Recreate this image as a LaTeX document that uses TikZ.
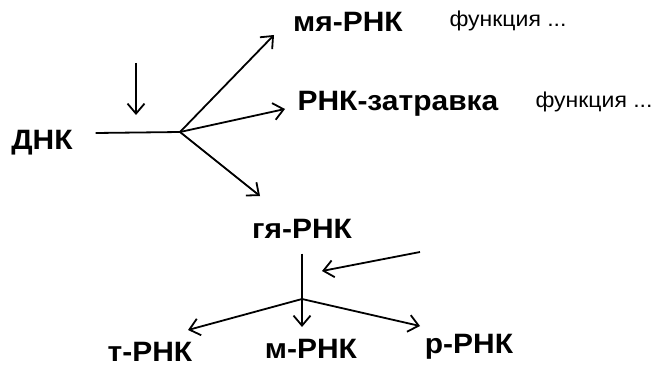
\documentclass[tikz,border=0pt]{standalone}
\usepackage{fontspec}
\setmainfont{Liberation Sans}[FakeStretch=1.07]
\usetikzlibrary{arrows.meta}
\begin{document}
\begin{tikzpicture}[x=1pt, y=-1pt,
        every node/.style = {inner sep=0pt, font=\fontsize{28}{30}\selectfont\bfseries},
        func/.style = {font=\fontsize{21.5}{24}\selectfont},
        every path/.style = {line width=1.8pt},
        arr/.style = {-{Straight Barb[length=10pt, width=17pt, line width=1.8pt]}}
        ]
    \useasboundingbox (0,0) rectangle (669,369);
    \node (dnk) at (42,143) {ДНК};
    \node (mya) at (348,22) {мя-РНК};
    \node[func] (f1) at (508,21) {функция ...};
    \node (zatr) at (398,104) {РНК-затравка};
    \node[func] (f2) at (594,102) {функция ...};
    \node (gya) at (302,229) {гя-РНК};
    \node (t) at (150,352) {т-РНК};
    \node (m) at (311,349) {м-РНК};
    \node (r) at (469,347) {р-РНК};
    % branch points
    \coordinate (hub1) at (180,132);
    \coordinate (hub2) at (302,299);
    \coordinate (in1) at (136,63);
    \coordinate (in2) at (420,252);
    \draw (dnk.east) ++(22,-10) -- (hub1);
    \draw[arr] (in1) -- ++(0,52);
    \draw[arr] (hub1) -- (274,35);
    \draw[arr] (hub1) -- (285,109);
    \draw[arr] (hub1) -- (260,196);
    \draw (gya.south) ++(0,14) -- (hub2);
    \draw[arr] (in2) -- (322,271);
    \draw[arr] (hub2) -- (188,330);
    \draw[arr] (hub2) -- (302,327);
    \draw[arr] (hub2) -- (420,326);
\end{tikzpicture}
\end{document}
